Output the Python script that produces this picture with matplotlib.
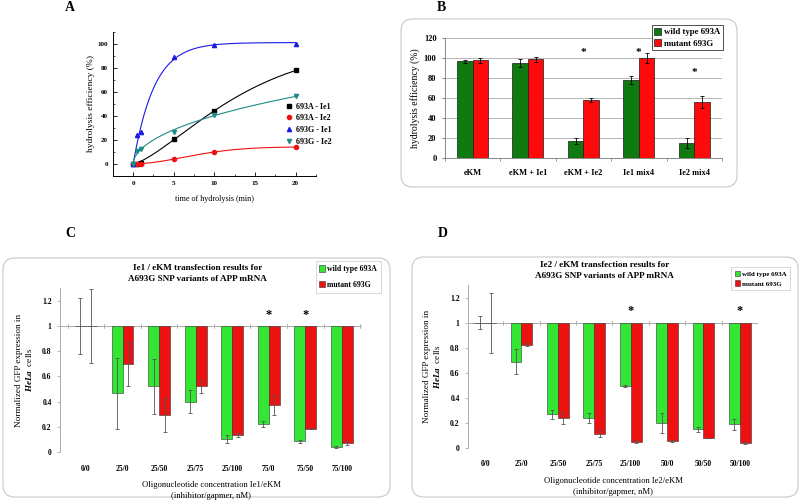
import numpy as np
import matplotlib
matplotlib.use("Agg")
import matplotlib.pyplot as plt
from matplotlib.patches import FancyBboxPatch

plt.rcParams['font.family'] = ['Liberation Serif', 'DejaVu Serif']
plt.rcParams['font.weight'] = 'bold'
plt.rcParams['mathtext.fontset'] = 'custom'
plt.rcParams['mathtext.rm'] = 'Liberation Serif:bold'
plt.rcParams['mathtext.it'] = 'Liberation Serif:italic:bold'
plt.rcParams['mathtext.bf'] = 'Liberation Serif:bold'

# ---- panel A : kinetics ----
tempo = [0, 0.5, 1, 5, 10, 20]
a_ie1 = [0, 0, 0.5, 21, 44, 78]
a_ie2 = [0, 0, 0, 4, 10, 14]
g_ie1 = [0, 24, 27, 89, 99.5, 100]
g_ie2 = [0, 11, 12.5, 27, 40.5, 56.5]

# ---- panel B ----
cat_b = ["eKM", "eKM + Ie1", "eKM + Ie2", "Ie1 mix4", "Ie2 mix4"]
wt_b = [97, 95, 17, 78, 15]
wt_b_err = [1.5, 4, 3, 4, 5]
mut_b = [98, 99, 58, 100, 56.5]
mut_b_err = [2.5, 2.5, 2, 5, 6]
star_b = [None, None, 106, 106, 86]

# ---- panel C ----
cat_c = ["0/0", "25/0", "25/50", "25/75", "25/100", "75/0", "75/50", "75/100"]
wt_c = [1, 0.465, 0.52, 0.40, 0.105, 0.22, 0.085, 0.04]
wt_c_err = [0.22, 0.28, 0.215, 0.09, 0.03, 0.025, 0.01, 0.005]
mut_c = [1, 0.695, 0.295, 0.52, 0.135, 0.37, 0.185, 0.07]
mut_c_err = [0.295, 0.175, 0.135, 0.055, 0.015, 0.08, 0.005, 0.015]
star_c = [None, None, None, None, None, 1.09, 1.09, None]

# ---- panel D ----
cat_d = ["0/0", "25/0", "25/50", "25/75", "25/100", "50/0", "50/50", "50/100"]
wt_d = [1, 0.69, 0.27, 0.24, 0.495, 0.20, 0.15, 0.19]
wt_d_err = [0.05, 0.1, 0.035, 0.04, 0.01, 0.08, 0.02, 0.045]
mut_d = [1, 0.825, 0.24, 0.115, 0.05, 0.055, 0.08, 0.04]
mut_d_err = [0.24, 0.01, 0.045, 0.03, 0.01, 0.005, 0.003, 0.005]
star_d = [None, None, None, None, 1.09, None, None, 1.09]


def ajuste_weibull(t, y):
    # least squares fit of y = A*(1 - exp(-(k t)^n)), grid over k and n
    t = np.asarray(t, float)
    y = np.asarray(y, float)
    melhor = None
    for k in np.logspace(-2.5, 1, 160):
        for n in np.linspace(0.3, 3, 80):
            f = 1 - np.exp(-(k * t) ** n)
            A = f.dot(y) / f.dot(f)
            sse = ((A * f - y) ** 2).sum()
            if melhor is None or sse < melhor[0]:
                melhor = (sse, A, k, n)
    _, A, k, n = melhor
    return lambda x: A * (1 - np.exp(-(k * x) ** n))


fig = plt.figure(figsize=(8, 5.01), dpi=100)

# panel boxes (rounded)
for (x0, y0, w, h) in [(4.01, 3.14, 3.36, 1.68), (0.03, 0.04, 3.87, 2.39), (4.12, 0.04, 3.86, 2.40)]:
    box = FancyBboxPatch((x0, y0), w, h, boxstyle="round,pad=0,rounding_size=0.12",
                         transform=fig.dpi_scale_trans, facecolor='white',
                         edgecolor='#c8c8c8', linewidth=0.8, zorder=-1)
    fig.patches.append(box)

for letra, x, y in [("A", 0.087, 0.985), ("B", 0.552, 0.986), ("C", 0.088, 0.533), ("D", 0.553, 0.533)]:
    fig.text(x, y, letra, fontsize=10, fontweight='bold', ha='center', va='center')

# ---------- A ----------
axA = fig.add_axes([0.141, 0.649, 0.254, 0.287])
axA.patch.set_alpha(0)
xs = np.linspace(0, 20, 400)
series_a = [(a_ie1, 'black', 's', '693A - Ie1'), (a_ie2, '#ee1111', 'o', '693A - Ie2'),
            (g_ie1, '#1a1ae6', '^', '693G - Ie1'), (g_ie2, '#1f8a8a', 'v', '693G - Ie2')]
for ys, cor, mk, lab in series_a:
    curva = ajuste_weibull(tempo, ys)
    axA.plot(xs, curva(xs), color=cor, lw=0.8)
    axA.plot(tempo, ys, ls='none', marker=mk, color=cor, ms=3, label=lab)
axA.set_xlim(-2.5, 22.5)
axA.set_ylim(-10, 110)
axA.set_xticks([0, 5, 10, 15, 20])
axA.set_yticks([0, 20, 40, 60, 80, 100])
axA.set_xticks(np.arange(-2.5, 22.6, 2.5), minor=True)
axA.set_yticks(np.arange(-10, 111, 10), minor=True)
axA.tick_params(direction='in', labelsize=5, length=3, width=0.6)
axA.tick_params(which='minor', direction='in', length=1.5, width=0.5)
for s in ['top', 'right']:
    axA.spines[s].set_visible(False)
for s in ['left', 'bottom']:
    axA.spines[s].set_linewidth(0.7)
axA.set_xlabel("time of hydrolysis (min)", fontsize=5.9, labelpad=7)
axA.set_ylabel("hydrolysis efficiency (%)", fontsize=6.8, labelpad=2)
axA.legend(loc='center left', bbox_to_anchor=(0.81, 0.36), frameon=False, fontsize=5.8,
           handletextpad=0.2, labelspacing=0.45, handlelength=1.2)

# ---------- B ----------
axB = fig.add_axes([0.556, 0.6846, 0.3465, 0.2394])
axB.patch.set_alpha(0)
xb = np.arange(len(cat_b))
wb = 0.28
axB.bar(xb - wb / 2, wt_b, wb, color='#0f7a0f', edgecolor='#1a1a1a', linewidth=0.5,
        yerr=wt_b_err, capsize=1.5, error_kw=dict(elinewidth=0.6, capthick=0.6), label='wild type 693A', zorder=3)
axB.bar(xb + wb / 2, mut_b, wb, color='#ff0a0a', edgecolor='#1a1a1a', linewidth=0.5,
        yerr=mut_b_err, capsize=1.5, error_kw=dict(elinewidth=0.6, capthick=0.6), label='mutant 693G', zorder=3)
for i, s in enumerate(star_b):
    if s is not None:
        axB.text(xb[i], s, "*", ha='center', va='center', fontsize=8, fontweight='bold')
axB.set_xlim(-0.5, 4.5)
axB.set_ylim(0, 120)
axB.set_yticks(range(0, 121, 20))
axB.yaxis.grid(True, color='#aaaaaa', lw=0.6, zorder=0)
axB.set_axisbelow(True)
axB.set_xticks(xb)
axB.set_xticklabels(cat_b)
axB.set_xticks(np.arange(-0.5, 4.6, 1), minor=True)
axB.tick_params(axis='x', length=0, labelsize=6, pad=8)
axB.tick_params(axis='x', which='minor', length=2.5, color='#888888')
axB.tick_params(axis='y', labelsize=6, length=2.5, color='#888888')
for s in ['top', 'right']:
    axB.spines[s].set_visible(False)
for s in ['left', 'bottom']:
    axB.spines[s].set_color('#888888')
    axB.spines[s].set_linewidth(0.7)
axB.set_ylabel("hydrolysis efficiency (%)", fontsize=7, labelpad=3)
legB = axB.legend(loc='upper right', bbox_to_anchor=(1.003, 1.108), borderaxespad=0, fontsize=6.3,
                  frameon=True, fancybox=False, edgecolor='black', handlelength=0.8, handleheight=0.9,
                  handletextpad=0.3, borderpad=0.3, labelspacing=0.3)
legB.get_frame().set_linewidth(0.6)


def painel_gfp(pos, cats, wt, wt_err, mut, mut_err, stars, xlim, title, title_x, xlab,
               leg_anchor, leg_fs, leg_sp):
    ax = fig.add_axes(pos)
    ax.patch.set_alpha(0)
    x = np.arange(len(cats))
    w = 0.3
    wt_h = [v - 1 for v in wt]
    mut_h = [v - 1 for v in mut]
    ax.bar(x - w / 2, wt_h, w, bottom=1, color='#33e633', edgecolor='#333333', linewidth=0.4,
           label='wild type 693A', zorder=3)
    ax.bar(x + w / 2, mut_h, w, bottom=1, color='#ee1111', edgecolor='#333333', linewidth=0.4,
           label='mutant 693G', zorder=3)
    ax.errorbar(x - w / 2, wt, yerr=wt_err, fmt='none', ecolor='#555555', elinewidth=0.6,
                capsize=1.5, capthick=0.6, zorder=4)
    ax.errorbar(x + w / 2, mut, yerr=mut_err, fmt='none', ecolor='#555555', elinewidth=0.6,
                capsize=1.5, capthick=0.6, zorder=4)
    ax.axhline(1, color='#aaaaaa', lw=0.7, zorder=2)
    for b in np.arange(-0.5, len(cats), 1):
        ax.plot([b, b], [0.985, 1.015], color='#aaaaaa', lw=0.6, zorder=2)
    for i, s in enumerate(stars):
        if s is not None:
            ax.text(x[i], s, "*", ha='center', va='center', fontsize=9, fontweight='bold')
    ax.set_xlim(*xlim)
    ax.set_ylim(0, 1.3)
    ax.set_yticks([0, 0.2, 0.4, 0.6, 0.8, 1, 1.2])
    ax.set_yticklabels(["0", "0.2", "0.4", "0.6", "0.8", "1", "1.2"])
    ax.set_xticks(x)
    ax.set_xticklabels(cats)
    ax.tick_params(axis='x', length=0, labelsize=5.5, pad=9)
    ax.tick_params(axis='y', labelsize=5.5, length=2.5, color='#aaaaaa', width=0.6)
    for s in ['top', 'right', 'bottom']:
        ax.spines[s].set_visible(False)
    ax.spines['left'].set_color('#aaaaaa')
    ax.spines['left'].set_linewidth(0.7)
    ax.set_ylabel("Normalized GFP expression in\n$\\it{HeLa}$  cells", fontsize=6.6, labelpad=6,
                  linespacing=1.1)
    ax.set_xlabel(xlab, fontsize=6.2, labelpad=6, linespacing=1.45)
    ax.set_title(title, fontsize=6.6, fontweight='bold', pad=5, linespacing=1.5, x=title_x)
    leg = ax.legend(loc='upper right', bbox_to_anchor=leg_anchor, borderaxespad=0, fontsize=leg_fs,
                    frameon=True, fancybox=False, edgecolor='#bbbbbb', handlelength=0.7,
                    handleheight=0.9, handletextpad=0.3, borderpad=0.5, labelspacing=leg_sp)
    leg.get_frame().set_linewidth(0.5)
    return ax


painel_gfp([0.075, 0.0978, 0.3775, 0.327], cat_c, wt_c, wt_c_err, mut_c, mut_c_err, star_c,
           (-0.71, 7.55), "Ie1 / eKM transfection results for\nA693G SNP variants of APP mRNA", 0.455,
           "Oligonucleotide concentration Ie1/eKM\n(inhibitor/gapmer, nM)", (1.063, 1.165), 5.6, 1.0)
painel_gfp([0.585, 0.1058, 0.3625, 0.325], cat_d, wt_d, wt_d_err, mut_d, mut_d_err, star_d,
           (-0.47, 7.5), "Ie2 / eKM transfection results for\nA693G SNP variants of APP mRNA", 0.472,
           "Oligonucleotide concentration Ie2/eKM\n(inhibitor/gapmer, nM)", (1.11, 1.11), 5.0, 0.5)

fig.savefig("out.png", dpi=100)
